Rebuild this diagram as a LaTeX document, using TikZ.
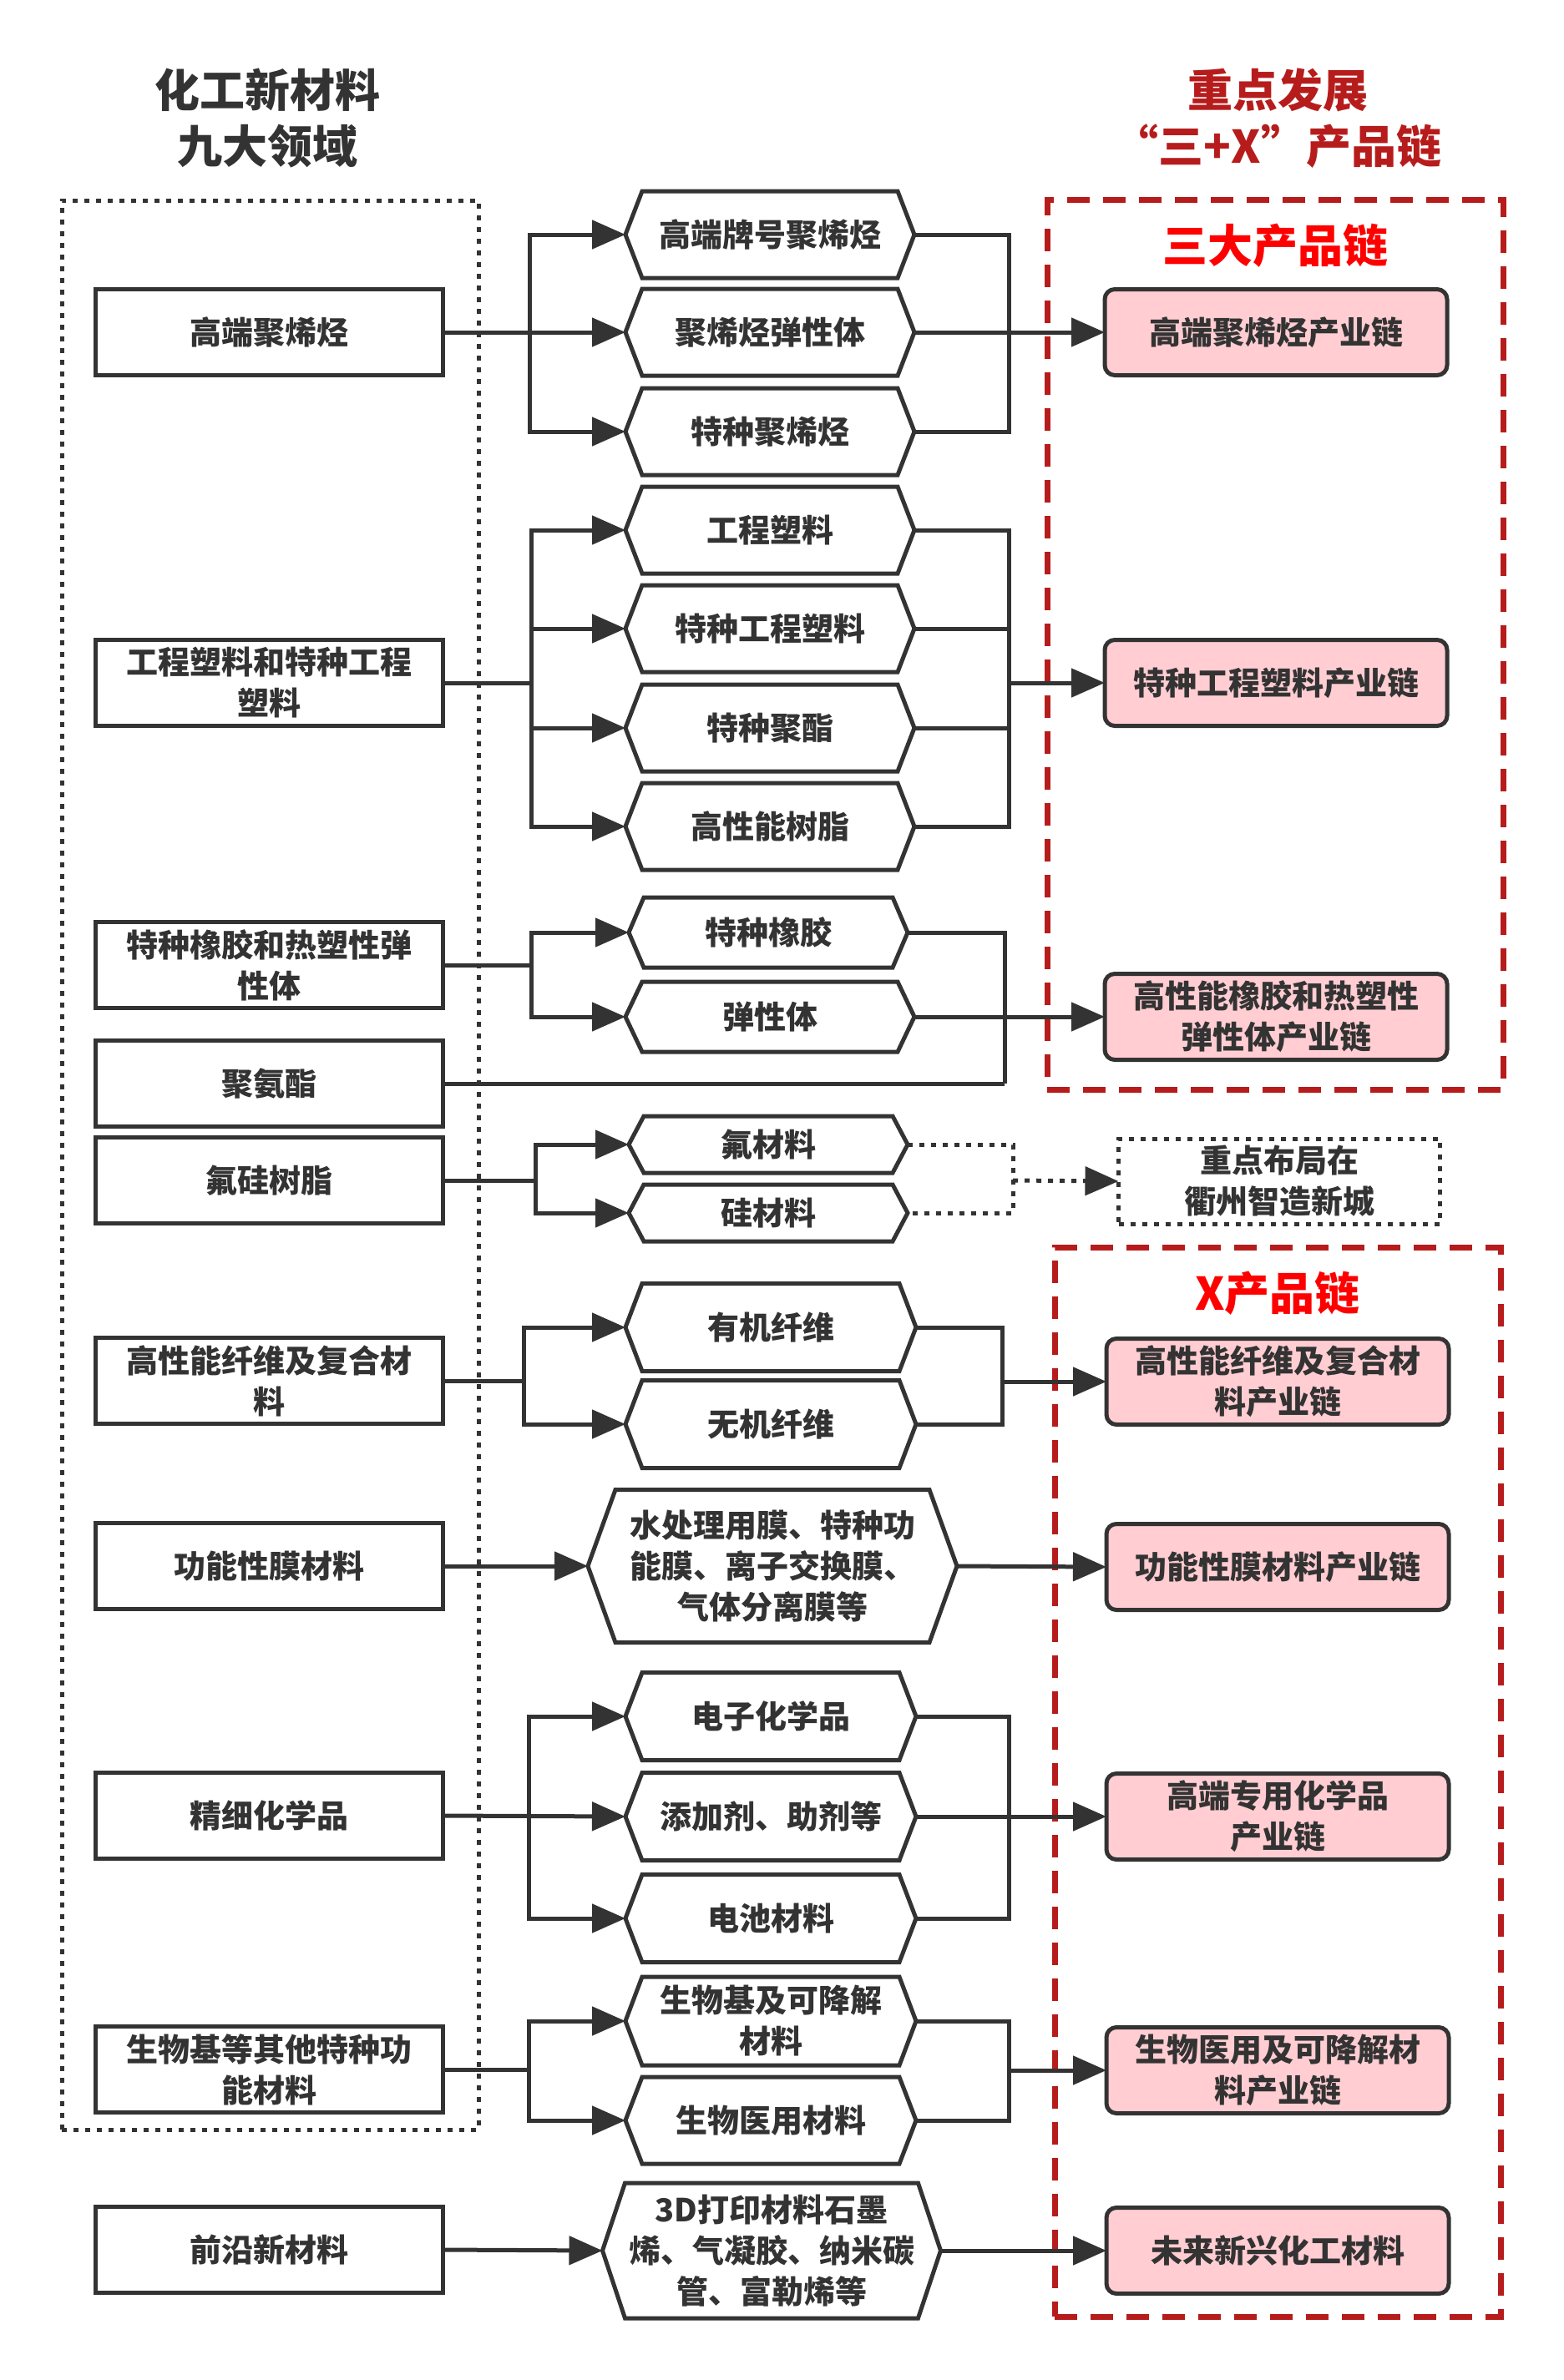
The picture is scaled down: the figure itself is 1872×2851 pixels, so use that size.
\documentclass[tikz,border=0pt]{standalone}
\usepackage{fontspec}
\setmainfont{Noto Sans CJK SC}
\usetikzlibrary{arrows.meta,calc}
\definecolor{ink}{HTML}{333333}
\definecolor{darkred}{HTML}{B71C1C}
\definecolor{brightred}{HTML}{FF0000}
\definecolor{pinkfill}{HTML}{FFCDD2}
\tikzset{
 base/.style={font=\bfseries\fontsize{38}{49}\selectfont, text=ink, align=center, inner sep=0pt, outer sep=0pt},
 leftbox/.style={base, draw=ink, line width=5pt, minimum width=416pt, minimum height=103pt},
 pinkbox/.style={base, draw=ink, fill=pinkfill, rounded corners=12pt, line width=5pt, minimum width=410pt, minimum height=103pt},
 dotbox/.style={base, draw=ink, line width=5pt, dash pattern=on 6pt off 8pt, minimum width=385pt, minimum height=102pt},
 hextext/.style={base},
 hexline/.style={draw=ink, line width=5pt, line join=miter},
 link/.style={draw=ink, line width=5pt},
 arr/.style={link, -{Triangle[length=40pt,width=34pt]}},
 dotlink/.style={draw=ink, line width=5pt, dash pattern=on 6pt off 8pt},
 dotarr/.style={dotlink, -{Triangle[length=40pt,width=34pt]}},
 redframe/.style={draw=darkred, line width=7pt, dash pattern=on 27pt off 16pt, inner sep=0pt, outer sep=0pt},
 blackframe/.style={draw=ink, line width=5pt, dash pattern=on 6pt off 8pt, inner sep=0pt, outer sep=0pt},
 bigtitle/.style={font=\bfseries\fontsize{54}{67}\selectfont, align=center, inner sep=0pt},
}
\newcommand\hexn[7]{%
 \node[hextext, minimum width=#4pt, minimum height=#5pt] (#1) at (#2,#3) {#7};
 \draw[hexline] (#1.west) -- ([xshift=#6pt]#1.north west) -- ([xshift=-#6pt]#1.north east) -- (#1.east) -- ([xshift=-#6pt]#1.south east) -- ([xshift=#6pt]#1.south west) -- cycle;
}
\begin{document}
\begin{tikzpicture}[x=1pt,y=-1pt]
\useasboundingbox[fill=white] (0,0) rectangle (1872,2851);

% titles
\node[bigtitle, text=ink] (t1) at (320,142) {化工新材料\\九大领域};
\node[bigtitle, text=darkred] (t2) at (1530,142) {重点发展\\“三+X”产品链};

% frames
\node[blackframe, minimum width=499pt, minimum height=2311pt] (fl) at (323.5,1395.5) {};
\node[redframe, minimum width=546pt, minimum height=1066pt] (fa) at (1527,772) {};
\node[redframe, minimum width=534pt, minimum height=1281pt] (fb) at (1530,2134.5) {};
\node[bigtitle, text=brightred] (la) at (1527,294) {三大产品链};
\node[bigtitle, text=brightred] (lb) at (1530,1549) {X产品链};

% left boxes
\node[leftbox] (L1) at (322,398) {高端聚烯烃};
\node[leftbox] (L2) at (322,818) {工程塑料和特种工程\\塑料};
\node[leftbox] (L3) at (322,1156) {特种橡胶和热塑性弹\\性体};
\node[leftbox] (L4) at (322,1298) {聚氨酯};
\node[leftbox] (L5) at (322,1414) {氟硅树脂};
\node[leftbox] (L6) at (322,1654) {高性能纤维及复合材\\料};
\node[leftbox] (L7) at (322,1876) {功能性膜材料};
\node[leftbox] (L8) at (322,2175) {精细化学品};
\node[leftbox] (L9) at (322,2479) {生物基等其他特种功\\能材料};
\node[leftbox] (L10) at (322,2695) {前沿新材料};

% hexagons
\hexn{H1}{922}{281}{346}{104}{20}{高端牌号聚烯烃}
\hexn{H2}{922}{398}{346}{104}{20}{聚烯烃弹性体}
\hexn{H3}{922}{517}{346}{104}{20}{特种聚烯烃}
\hexn{H4}{922}{635}{346}{104}{20}{工程塑料}
\hexn{H5}{922}{753}{346}{104}{20}{特种工程塑料}
\hexn{H6}{922}{872}{346}{104}{20}{特种聚酯}
\hexn{H7}{922}{990}{346}{104}{20}{高性能树脂}
\hexn{H8}{920}{1117}{334}{84}{18}{特种橡胶}
\hexn{H9}{922}{1218}{346}{84}{20}{弹性体}
\hexn{H10}{920}{1371}{334}{68}{18}{氟材料}
\hexn{H11}{920}{1453}{334}{68}{18}{硅材料}
\hexn{H12}{923}{1590}{348}{105}{20}{有机纤维}
\hexn{H13}{923}{1706}{348}{105}{20}{无机纤维}
\hexn{H14}{925}{1876}{442}{183}{33}{水处理用膜、特种功\\能膜、离子交换膜、\\气体分离膜等}
\hexn{H15}{923}{2056}{348}{105}{20}{电子化学品}
\hexn{H16}{923}{2176}{348}{105}{20}{添加剂、助剂等}
\hexn{H17}{923}{2298}{348}{105}{20}{电池材料}
\hexn{H18}{923}{2421}{348}{106}{20}{生物基及可降解\\材料}
\hexn{H19}{923}{2540}{348}{104}{20}{生物医用材料}
\hexn{H20}{924}{2696}{405}{162}{27}{3D打印材料石墨\\烯、气凝胶、纳米碳\\管、富勒烯等}

% right boxes
\node[pinkbox] (P1) at (1528,398) {高端聚烯烃产业链};
\node[pinkbox] (P2) at (1528,818) {特种工程塑料产业链};
\node[pinkbox] (P3) at (1528,1218) {高性能橡胶和热塑性\\弹性体产业链};
\node[dotbox] (P4) at (1532,1415) {重点布局在\\衢州智造新城};
\node[pinkbox] (P5) at (1530,1655) {高性能纤维及复合材\\料产业链};
\node[pinkbox] (P6) at (1530,1877) {功能性膜材料产业链};
\node[pinkbox] (P7) at (1530,2176) {高端专用化学品\\产业链};
\node[pinkbox] (P8) at (1530,2480) {生物医用及可降解材\\料产业链};
\node[pinkbox] (P9) at (1530,2696) {未来新兴化工材料};

% junction coordinates
\coordinate (j1) at (634,398);   \coordinate (r1) at (1208,398);
\coordinate (j2) at (636,818);   \coordinate (r2) at (1208,818);
\coordinate (j3) at (636,1156);  \coordinate (r3) at (1203,1298);
\coordinate (j5) at (641,1414);  \coordinate (r5) at (1213,1414);
\coordinate (j6) at (627,1654);  \coordinate (r6) at (1200,1655);
\coordinate (j8) at (633,2175);  \coordinate (r8) at (1208,2176);
\coordinate (j9) at (633,2479);  \coordinate (r9) at (1208,2480);

% group 1
\draw[arr] (L1.east) -- (H2.west);
\draw[arr] (j1) |- (H1.west);
\draw[arr] (j1) |- (H3.west);
\draw[link] (H1.east) -| (r1) |- (H3.east);
\draw[arr] (H2.east) -- (P1.west);

% group 2
\draw[link] (L2.east) -- (j2);
\draw[arr] (j2) |- (H4.west);
\draw[arr] (j2) |- (H5.west);
\draw[arr] (j2) |- (H6.west);
\draw[arr] (j2) |- (H7.west);
\draw[link] (H4.east) -| (r2) |- (H7.east);
\draw[link] (H5.east) -| (r2);
\draw[link] (H6.east) -| (r2);
\draw[arr] (r2) -- (P2.west);

% group 3
\draw[link] (L3.east) -- (j3);
\draw[arr] (j3) |- (H8.west);
\draw[arr] (j3) |- (H9.west);
\draw[link] (H8.east) -| (r3);
\draw[link] (L4.east) -- (r3);
\draw[arr] (H9.east) -- (P3.west);

% group 4
\draw[link] (L5.east) -- (j5);
\draw[arr] (j5) |- (H10.west);
\draw[arr] (j5) |- (H11.west);
\draw[dotlink] (H10.east) -| (r5) |- (H11.east);
\draw[dotarr] (r5) -- (P4.west);

% group 5
\draw[link] (L6.east) -- (j6);
\draw[arr] (j6) |- (H12.west);
\draw[arr] (j6) |- (H13.west);
\draw[link] (H12.east) -| (r6) |- (H13.east);
\draw[arr] (r6) -- (P5.west);

% group 6
\draw[arr] (L7.east) -- (H14.west);
\draw[arr] (H14.east) -- (P6.west);

% group 7
\draw[arr] (L8.east) -- (H16.west);
\draw[arr] (j8) |- (H15.west);
\draw[arr] (j8) |- (H17.west);
\draw[link] (H15.east) -| (r8) |- (H17.east);
\draw[arr] (H16.east) -- (P7.west);

% group 8
\draw[link] (L9.east) -- (j9);
\draw[arr] (j9) |- (H18.west);
\draw[arr] (j9) |- (H19.west);
\draw[link] (H18.east) -| (r9) |- (H19.east);
\draw[arr] (r9) -- (P8.west);

% group 9
\draw[arr] (L10.east) -- (H20.west);
\draw[arr] (H20.east) -- (P9.west);
\end{tikzpicture}
\end{document}
